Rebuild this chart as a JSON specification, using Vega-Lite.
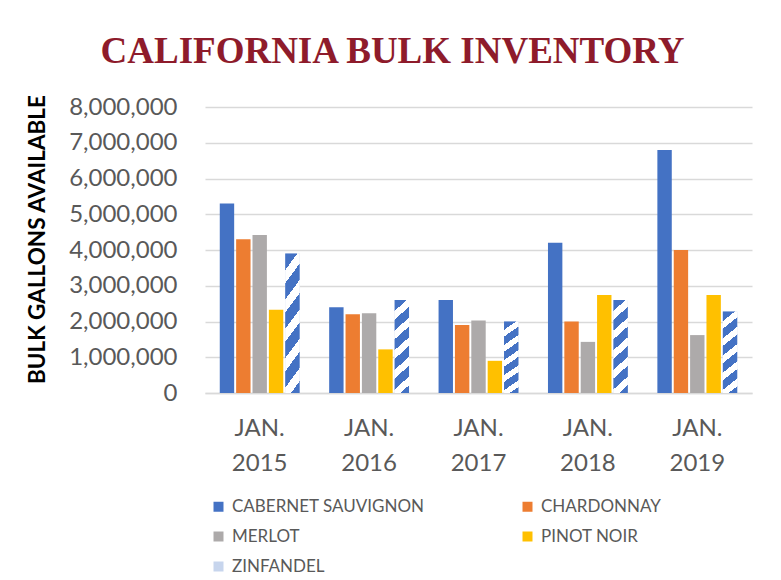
{
  "$schema": "https://vega.github.io/schema/vega-lite/v6.json",
  "autosize": {"type": "none"},
  "width": 547,
  "height": 286,
  "padding": {"left": 205, "top": 107, "right": 29, "bottom": 187},
  "background": "white",
  "title": {
    "text": "CALIFORNIA BULK INVENTORY",
    "font": "Liberation Serif",
    "fontWeight": "bold",
    "fontSize": 37,
    "color": "#8E1B2B",
    "anchor": "middle",
    "dx": -86,
    "offset": 23
  },
  "data": {
    "values": [
      {"year": "2015", "variety": "CABERNET SAUVIGNON", "gallons": 5300000},
      {"year": "2015", "variety": "CHARDONNAY", "gallons": 4300000},
      {"year": "2015", "variety": "MERLOT", "gallons": 4420000},
      {"year": "2015", "variety": "PINOT NOIR", "gallons": 2330000},
      {"year": "2015", "variety": "ZINFANDEL", "gallons": 3900000},
      {"year": "2016", "variety": "CABERNET SAUVIGNON", "gallons": 2400000},
      {"year": "2016", "variety": "CHARDONNAY", "gallons": 2200000},
      {"year": "2016", "variety": "MERLOT", "gallons": 2230000},
      {"year": "2016", "variety": "PINOT NOIR", "gallons": 1220000},
      {"year": "2016", "variety": "ZINFANDEL", "gallons": 2600000},
      {"year": "2017", "variety": "CABERNET SAUVIGNON", "gallons": 2600000},
      {"year": "2017", "variety": "CHARDONNAY", "gallons": 1900000},
      {"year": "2017", "variety": "MERLOT", "gallons": 2030000},
      {"year": "2017", "variety": "PINOT NOIR", "gallons": 900000},
      {"year": "2017", "variety": "ZINFANDEL", "gallons": 2000000},
      {"year": "2018", "variety": "CABERNET SAUVIGNON", "gallons": 4200000},
      {"year": "2018", "variety": "CHARDONNAY", "gallons": 2000000},
      {"year": "2018", "variety": "MERLOT", "gallons": 1430000},
      {"year": "2018", "variety": "PINOT NOIR", "gallons": 2740000},
      {"year": "2018", "variety": "ZINFANDEL", "gallons": 2600000},
      {"year": "2019", "variety": "CABERNET SAUVIGNON", "gallons": 6800000},
      {"year": "2019", "variety": "CHARDONNAY", "gallons": 4000000},
      {"year": "2019", "variety": "MERLOT", "gallons": 1620000},
      {"year": "2019", "variety": "PINOT NOIR", "gallons": 2740000},
      {"year": "2019", "variety": "ZINFANDEL", "gallons": 2280000}
    ]
  },
  "encoding": {
    "x": {
      "field": "year",
      "type": "nominal",
      "scale": {"paddingInner": 0.27, "paddingOuter": 0.135},
      "axis": {
        "title": null,
        "labelAngle": 0,
        "labelExpr": "['JAN.', datum.value]",
        "labelFont": "Lato",
        "labelFontSize": 24,
        "labelColor": "#595959",
        "labelLineHeight": 35,
        "labelPadding": 23,
        "ticks": false,
        "domainColor": "#D9D9D9",
        "domainWidth": 1.5
      }
    },
    "xOffset": {
      "field": "variety",
      "type": "nominal",
      "scale": {
        "domain": ["CABERNET SAUVIGNON", "CHARDONNAY", "MERLOT", "PINOT NOIR", "ZINFANDEL"],
        "paddingInner": 0.12,
        "paddingOuter": 0
      }
    },
    "y": {
      "field": "gallons",
      "type": "quantitative",
      "scale": {"domain": [0, 8000000], "nice": false},
      "axis": {
        "title": "BULK GALLONS AVAILABLE",
        "titleFont": "Lato",
        "titleFontSize": 22.5,
        "titleFontWeight": "bold",
        "titleColor": "#000000",
        "titleX": -168,
        "titleY": 132,
        "titleAngle": -90,
        "titleAlign": "center",
        "titleBaseline": "middle",
        "values": [0, 1000000, 2000000, 3000000, 4000000, 5000000, 6000000, 7000000, 8000000],
        "format": ",d",
        "labelFont": "Lato",
        "labelFontSize": 24,
        "labelColor": "#595959",
        "labelPadding": 28,
        "ticks": false,
        "domain": false,
        "gridColor": "#D9D9D9",
        "gridWidth": 1.5
      }
    }
  },
  "layer": [
    {
      "mark": {"type": "bar"},
      "encoding": {
        "color": {
          "field": "variety",
          "type": "nominal",
          "scale": {
            "domain": ["CABERNET SAUVIGNON", "CHARDONNAY", "MERLOT", "PINOT NOIR", "ZINFANDEL"],
            "range": ["#4472C4", "#ED7D31", "#ADAAAA", "#FFC000", "#C7D5ED"]
          },
          "legend": {
            "title": null,
            "orient": "none",
            "legendX": 5,
            "legendY": 391,
            "direction": "horizontal",
            "columns": 2,
            "columnPadding": 94,
            "rowPadding": 12,
            "symbolType": "square",
            "symbolSize": 100,
            "symbolStrokeWidth": 0,
            "labelFont": "Lato",
            "labelFontSize": 17,
            "labelColor": "#595959",
            "labelOffset": 5,
            "labelLimit": 400
          }
        }
      }
    },
    {
      "transform": [{"filter": "datum.variety === 'ZINFANDEL'"}],
      "mark": {
        "type": "bar",
        "color": {
          "gradient": "linear",
          "x1": 0, "y1": 0, "x2": 0.16, "y2": 1.15,
          "stops": [
            {"offset": 0, "color": "#4472C4"},
            {"offset": 0.1, "color": "#4472C4"},
            {"offset": 0.1, "color": "#FFFFFF"},
            {"offset": 0.18, "color": "#FFFFFF"},
            {"offset": 0.18, "color": "#4472C4"},
            {"offset": 0.28, "color": "#4472C4"},
            {"offset": 0.28, "color": "#FFFFFF"},
            {"offset": 0.36, "color": "#FFFFFF"},
            {"offset": 0.36, "color": "#4472C4"},
            {"offset": 0.46, "color": "#4472C4"},
            {"offset": 0.46, "color": "#FFFFFF"},
            {"offset": 0.54, "color": "#FFFFFF"},
            {"offset": 0.54, "color": "#4472C4"},
            {"offset": 0.64, "color": "#4472C4"},
            {"offset": 0.64, "color": "#FFFFFF"},
            {"offset": 0.72, "color": "#FFFFFF"},
            {"offset": 0.72, "color": "#4472C4"},
            {"offset": 0.82, "color": "#4472C4"},
            {"offset": 0.82, "color": "#FFFFFF"},
            {"offset": 0.9, "color": "#FFFFFF"},
            {"offset": 0.9, "color": "#4472C4"},
            {"offset": 1, "color": "#4472C4"}
          ]
        }
      }
    }
  ],
  "config": {
    "view": {"stroke": null}
  }
}
